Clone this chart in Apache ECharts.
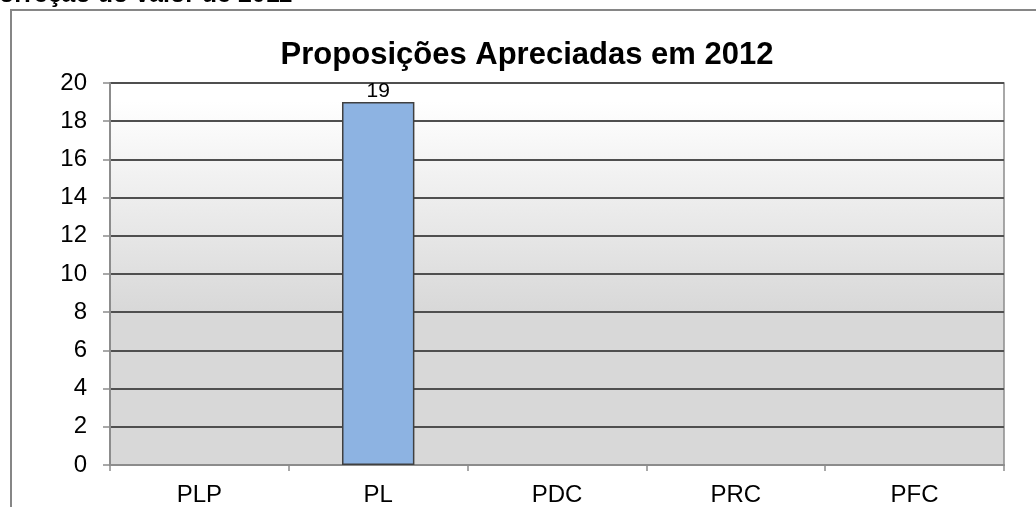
<!DOCTYPE html>
<html>
<head>
<meta charset="utf-8">
<script src="https://cdn.jsdelivr.net/npm/echarts@6/dist/echarts.min.js"></script>
<style>html,body{margin:0;padding:0;background:#fff;}#c{width:1036px;height:507px;}</style>
</head>
<body>
<div id="c"></div>
<script>
const categories = ['PLP', 'PL', 'PDC', 'PRC', 'PFC'];
const values = [0, 19, 0, 0, 0];
const chartTitle = 'Proposições Apreciadas em 2012';
const topText = 'orreção do valor de 2011';

const chart = echarts.init(document.getElementById('c'));
const font = '"Liberation Sans", Arial, sans-serif';
chart.setOption({
  animation: false,
  textStyle: { fontFamily: font },
  title: {
    text: chartTitle,
    left: 522, textAlign: 'center', top: 35,
    textStyle: { fontSize: 31, fontWeight: 'bold', color: '#000', fontFamily: font }
  },
  graphic: [
    { type: 'rect', shape: { x: 11, y: 10, width: 1200, height: 700 }, style: { fill: 'none', stroke: '#868686', lineWidth: 2 }, z: 0 },
    { type: 'text', left: -1, top: -17, style: { text: topText, fontSize: 25, fontWeight: 'bold', fill: '#000', fontFamily: font } }
  ],
  grid: {
    left: 110, right: 32, top: 83, bottom: 42,
    show: true,
    borderColor: '#8c8c8c', borderWidth: 1.5,
    backgroundColor: {
      type: 'linear', x: 0, y: 0, x2: 0, y2: 1,
      colorStops: [
        { offset: 0, color: '#ffffff' },
        { offset: 0.05, color: '#ffffff' },
        { offset: 0.6, color: '#d8d8d8' },
        { offset: 1, color: '#d8d8d8' }
      ]
    }
  },
  xAxis: {
    type: 'category', data: categories, boundaryGap: true,
    axisLine: { lineStyle: { color: '#8c8c8c', width: 2 } },
    axisTick: { show: true, length: 6, alignWithLabel: false, lineStyle: { color: '#8c8c8c', width: 1.5 } },
    axisLabel: { fontSize: 24, color: '#000', margin: 18, fontFamily: font },
    splitLine: { show: false }
  },
  yAxis: {
    type: 'value', min: 0, max: 20, interval: 2,
    axisLine: { show: true, lineStyle: { color: '#8c8c8c', width: 2 } },
    axisTick: { show: true, length: 7, lineStyle: { color: '#8c8c8c', width: 1.5 } },
    axisLabel: { fontSize: 24, color: '#000', margin: 23, fontFamily: font },
    splitLine: { show: true, lineStyle: { color: '#4f4f4f', width: 1.8 } }
  },
  series: [{
    type: 'bar',
    data: values.map(v => v > 0 ? v : { value: v, itemStyle: { borderWidth: 0, opacity: 0 } }),
    barWidth: '40.5%',
    itemStyle: { color: '#8db3e2', borderColor: '#404040', borderWidth: 1.5 },
    label: {
      show: true, position: 'top', distance: 0, fontSize: 21, color: '#000', fontFamily: font,
      formatter: p => p.value > 0 ? String(p.value) : ''
    }
  }]
});
</script>
</body>
</html>
